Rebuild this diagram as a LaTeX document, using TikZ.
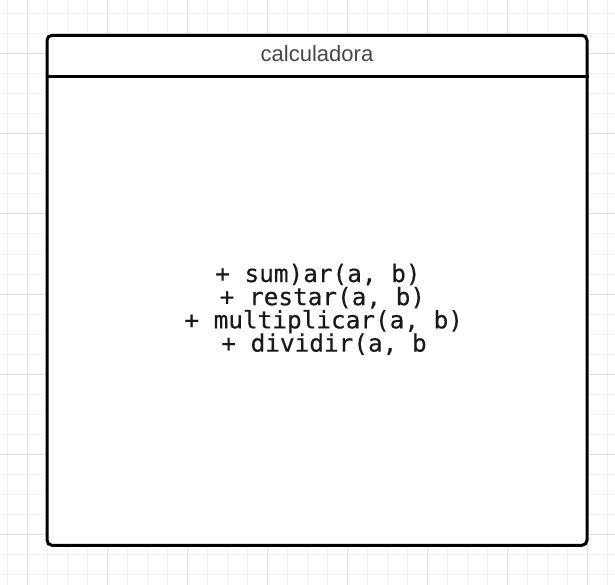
\documentclass[tikz,border=0pt]{standalone}
\usepackage{fontspec}
\setmainfont{Liberation Sans}
\newfontfamily\monofont[FakeStretch=1.015,FakeBold=0.4]{DejaVu Sans Mono}
\usepackage{xcolor}
\usepackage{tikz}
\usetikzlibrary{positioning,calc}

\begin{document}
\begin{tikzpicture}[
    x=1pt, y=-1pt,
    % --- cuadrícula de fondo ---
    grid_minor/.style={draw=black!6, line width=1pt},
    grid_major/.style={draw=black!12, line width=1pt},
    % --- caja de la clase ---
    class_box/.style={
        rectangle, draw=black, line width=3pt, rounded corners=5pt,
        fill=white, inner sep=0pt,
        minimum width=540pt, minimum height=510pt
    },
    % Nombre de la clase (cabecera)
    class_name/.style={font=\fontsize{22}{26}\selectfont, text=black!72, inner sep=0pt, anchor=base},
    % Métodos en fuente monoespaciada
    method/.style={font=\monofont\fontsize{24}{23}\selectfont, text=black!90, inner sep=0pt, anchor=base}
    ]
    \useasboundingbox (0,0) rectangle (615,585);

    % Cuadrícula
    \foreach \x in {7.5,27.5,...,607.5} \draw[grid_minor] (\x,0) -- (\x,585);
    \foreach \y in {14,34,...,574} \draw[grid_minor] (0,\y) -- (615,\y);
    \foreach \x in {27.5,107.5,...,587.5} \draw[grid_major] (\x,0) -- (\x,585);
    \foreach \y in {54,134,...,534} \draw[grid_major] (0,\y) -- (615,\y);

    % Caja de la clase
    \node[class_box] (calc) at (317,290.3) {};
    \coordinate (sep_l) at ($(calc.north west)+(0,42.4)$);
    \coordinate (sep_r) at ($(calc.north east)+(0,42.4)$);
    \draw[line width=3pt] (sep_l) -- (sep_r);

    % Cabecera
    \node[class_name] (titulo) at (317,61.7) {calculadora};

    % Métodos
    \node[method] (sumar) at (317.9,282) {+ sum)ar(a, b)};
    \node[method] (restar) at (322.4,305.2) {+ restar(a, b)};
    \node[method] (multiplicar) at (323.7,328.4) {+ multiplicar(a, b)};
    \node[method] (dividir) at (324,351.6) {+ dividir(a, b};
\end{tikzpicture}
\end{document}
